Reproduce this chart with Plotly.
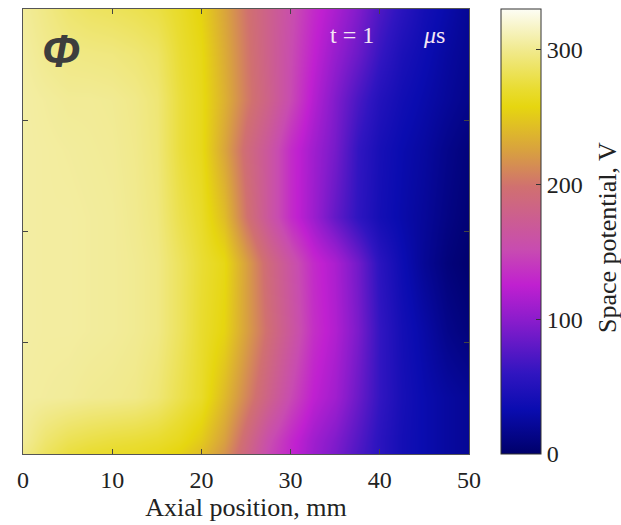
import plotly.graph_objects as go

# Axial positions (mm) of the sampled columns
x_mm = [0, 2.5, 5, 7.5, 10, 12.5, 15, 17.5, 20, 22.5, 25, 27.5, 30, 32.5, 35, 37.5, 40, 42.5, 45, 47.5, 50]
# Transverse positions (arbitrary units, bottom to top)
y_pos = [0, 0.13, 0.51, 1.11, 1.72, 2.13, 2.73, 3.18, 3.6, 4.0]

# Space potential, V (rows follow y_pos)
row_y000 = [298, 285, 275, 270, 268, 266, 262, 255, 242, 218, 185, 150, 128, 108, 92, 72, 55, 40, 32, 25, 20]
row_y013 = [302, 290, 282, 278, 275, 273, 270, 263, 250, 225, 190, 155, 130, 110, 95, 75, 55, 40, 32, 25, 20]
row_y051 = [305, 304, 303, 301, 300, 298, 292, 280, 268, 240, 210, 180, 150, 125, 110, 85, 60, 42, 32, 25, 20]
row_y111 = [306, 305, 305, 304, 303, 301, 297, 285, 270, 256, 225, 195, 165, 135, 118, 92, 60, 40, 28, 15, 8]
row_y172 = [306, 305, 305, 304, 303, 301, 297, 285, 272, 260, 225, 190, 160, 132, 115, 88, 55, 35, 20, 8, 2]
row_y213 = [306, 305, 305, 304, 303, 300, 295, 280, 268, 242, 200, 165, 132, 108, 82, 58, 40, 30, 22, 12, 5]
row_y273 = [306, 305, 304, 303, 302, 299, 293, 275, 262, 228, 192, 165, 132, 110, 90, 60, 42, 32, 25, 15, 8]
row_y318 = [306, 304, 302, 302, 301, 298, 292, 275, 262, 235, 205, 180, 150, 120, 95, 70, 50, 38, 30, 22, 15]
row_y360 = [305, 300, 297, 296, 295, 292, 287, 272, 260, 232, 203, 178, 152, 127, 105, 85, 62, 45, 35, 25, 18]
row_y400 = [303, 297, 290, 286, 284, 281, 277, 268, 255, 228, 200, 178, 155, 132, 115, 95, 72, 55, 40, 30, 20]

z_values = [row_y000, row_y013, row_y051, row_y111, row_y172, row_y213,
            row_y273, row_y318, row_y360, row_y400]

x_ticks = [0, 10, 20, 30, 40, 50]
y_ticks = [1, 2, 3]
cbar_ticks = [0, 100, 200, 300]

colorscale = [
    [0.00, "#00006a"],
    [0.10, "#0a0cb0"],
    [0.18, "#3015c0"],
    [0.30, "#8a1ccc"],
    [0.38, "#c020d0"],
    [0.46, "#c84cb0"],
    [0.60, "#d07070"],
    [0.68, "#d8a040"],
    [0.78, "#e6d610"],
    [0.82, "#e9dc30"],
    [0.91, "#f1ea90"],
    [1.00, "#fdfdf5"],
]

serif = "Liberation Serif, Times New Roman, serif"
PL, PR, PT, PB = 23, 469, 9, 454
pw, ph = PR - PL, PB - PT

fig = go.Figure(go.Heatmap(
    x=x_mm, y=y_pos, z=z_values,
    zmin=0, zmax=330, zsmooth="best",
    colorscale=colorscale,
    colorbar=dict(
        x=(501 - PL) / pw, xanchor="left", xref="paper",
        y=0.5, yanchor="middle", len=1.0, lenmode="fraction",
        thickness=40, thicknessmode="pixels",
        outlinecolor="#333333", outlinewidth=1,
        tickvals=cbar_ticks, ticks="inside", ticklen=5, tickcolor="#333333",
        tickfont=dict(family=serif, size=24, color="#222222"),
        xpad=0, ypad=0,
    ),
))

fig.update_layout(
    width=621, height=525,
    margin=dict(l=PL, r=621 - PR, t=PT, b=525 - PB),
    paper_bgcolor="white", plot_bgcolor="white",
    xaxis=dict(
        range=[0, 50], tickvals=x_ticks, ticks="inside", ticklen=5,
        tickcolor="#444444", showline=True, linecolor="#555555", linewidth=1,
        mirror="ticks", showgrid=False, zeroline=False, ticklabelstandoff=4,
        tickfont=dict(family=serif, size=24, color="#222222"),
        title=dict(text="Axial position, mm", font=dict(family=serif, size=26, color="#222222"), standoff=4),
    ),
    yaxis=dict(
        range=[0, 4], tickvals=y_ticks, ticktext=["", "", ""], ticks="inside", ticklen=5,
        tickcolor="#444444", showline=True, linecolor="#555555", linewidth=1,
        mirror="ticks", showgrid=False, zeroline=False,
    ),
    annotations=[
        dict(text="<b><i>Φ</i></b>", x=(61 - PL) / pw, y=(PB - 51) / ph, xref="paper", yref="paper",
             xanchor="center", yanchor="middle",
             showarrow=False, font=dict(family="Liberation Sans, Arial, sans-serif", size=46, color="#3d3d3d")),
        dict(text="t = 1", x=(352 - PL) / pw, y=(PB - 35) / ph, xref="paper", yref="paper",
             xanchor="center", yanchor="middle",
             showarrow=False, font=dict(family=serif, size=24, color="#f4e6f4")),
        dict(text="<i>μ</i>s", x=(434 - PL) / pw, y=(PB - 35) / ph, xref="paper", yref="paper",
             xanchor="center", yanchor="middle",
             showarrow=False, font=dict(family=serif, size=24, color="#f4e6f4")),
        dict(text="Space potential, V", x=(607 - PL) / pw, y=(PB - 238) / ph, xref="paper", yref="paper",
             xanchor="center", yanchor="middle",
             showarrow=False, textangle=-90,
             font=dict(family=serif, size=26, color="#222222")),
    ],
)

fig.write_html("out.html")
